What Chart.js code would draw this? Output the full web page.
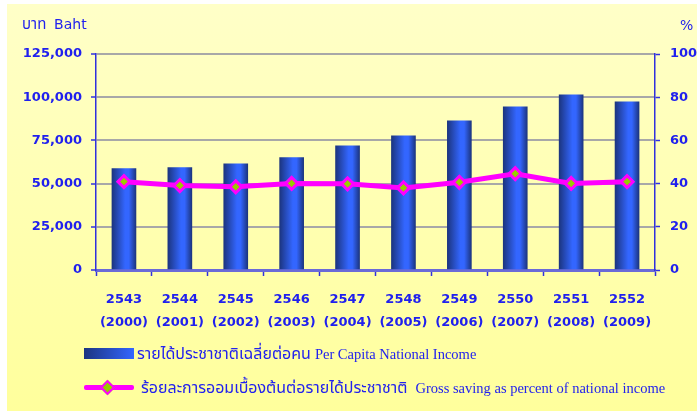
<!DOCTYPE html>
<html>
<head>
<meta charset="utf-8">
<script src="https://cdn.jsdelivr.net/npm/chart.js@4.4.0/dist/chart.umd.min.js"></script>
<style>
  body { margin: 0; background: #fff; }
  #wrap { position: relative; width: 698px; height: 414px; }
  #myChart { position: absolute; left: 0; top: 0; }
  .lbl { position: absolute; color: #2222ee; white-space: nowrap; }
  .th { font-family: Tahoma, "Noto Sans Thai", "Noto Sans", sans-serif; font-size: 16px; }
  .en { font-family: "Liberation Serif", "Times New Roman", serif; }
</style>
</head>
<body>
<div id="wrap">
  <canvas id="myChart" width="698" height="414"></canvas>
  <div class="lbl th" style="left:22px; top:13px; font-size:15px;">บาท&nbsp; <span style="font-family:'DejaVu Sans',sans-serif;font-size:14px;">Baht</span></div>
  <div class="lbl" style="left:680px; top:17px; font:14px 'DejaVu Sans', sans-serif;">%</div>

  <div style="position:absolute; left:84px; top:348px; width:50px; height:11px; background:linear-gradient(to right,#1c3580,#3366ff);"></div>
  <div class="lbl" style="left:137px; top:342px;"><span class="th">รายได้ประชาชาติเฉลี่ยต่อคน</span> <span class="en" style="font-size:14.5px;">Per Capita National Income</span></div>

  <div style="position:absolute; left:84px; top:385px; width:50px; height:5px; background:#ff00ff; border-radius:2px;"></div>
  <div style="position:absolute; left:102px; top:382px; width:7px; height:7px; background:#99cc00; border:2px solid #ff00ff; transform:rotate(45deg);"></div>
  <div class="lbl" style="left:141px; top:376px;"><span class="th">ร้อยละการออมเบื้องต้นต่อรายได้ประชาชาติ</span>&nbsp; <span class="en" style="font-size:14.5px;">Gross saving as percent of national income</span></div>
</div>
<script>
// years (Thai Buddhist era / AD)
var yearsBE = ['2543', '2544', '2545', '2546', '2547', '2548', '2549', '2550', '2551', '2552'];
var yearsAD = ['(2000)', '(2001)', '(2002)', '(2003)', '(2004)', '(2005)', '(2006)', '(2007)', '(2008)', '(2009)'];

// per capita national income, baht
var perCapitaIncome = [58700, 59200, 61500, 65000, 71900, 77700, 86300, 94400, 101300, 97300];

// gross saving as percent of national income
var grossSavingPct = [40.9, 39.1, 38.5, 40.1, 39.9, 38.0, 40.6, 44.6, 40.1, 40.9];

var incomeTicks = [0, 25000, 50000, 75000, 100000, 125000];
var pctTicks = [0, 20, 40, 60, 80, 100];

var blue = '#2020ee';
var barW = 24;

// yellow background behind everything
var bgPlugin = {
    id: 'bg',
    beforeDraw: function(chart) {
        var ctx = chart.ctx;
        var g = ctx.createLinearGradient(0, 4, 0, 411);
        g.addColorStop(0, '#ffffc8');
        g.addColorStop(1, '#ffff9c');
        ctx.save();
        ctx.fillStyle = g;
        ctx.fillRect(7, 4, 690, 407);
        ctx.restore();
    }
};

// cylinder-like shading, one gradient per bar
function barFill(c)
{
    var xs = c.chart.scales.x;
    if (!xs || c.dataIndex === undefined) return '#3366ff';
    var cx = xs.getPixelForValue(c.dataIndex);
    if (!isFinite(cx)) return '#3366ff';
    var x0 = cx - barW / 2;
    var g = c.chart.ctx.createLinearGradient(x0, 0, x0 + barW, 0);
    g.addColorStop(0, '#1c3580');
    g.addColorStop(0.55, '#3366ff');
    g.addColorStop(0.7, '#3366ff');
    g.addColorStop(1, '#1c3580');
    return g;
}

function drawChart()
{
    var ctx = document.getElementById('myChart').getContext('2d');
    var labels = yearsBE.map(function(y, i) { return [y, yearsAD[i]]; });

    var chart = new Chart(ctx, {
        type: 'bar',
        data: {
            labels: labels,
            datasets: [{
                type: 'bar',
                label: 'Per Capita National Income',
                data: perCapitaIncome,
                yAxisID: 'y',
                backgroundColor: barFill,
                barThickness: barW,
                order: 2
            }, {
                type: 'line',
                label: 'Gross saving as percent of national income',
                data: grossSavingPct,
                yAxisID: 'y1',
                borderColor: '#ff00ff',
                borderWidth: 5,
                fill: false,
                tension: 0,
                pointStyle: 'rectRot',
                pointRadius: 6,
                pointBorderWidth: 3,
                pointBackgroundColor: '#99cc00',
                pointBorderColor: '#ff00ff',
                order: 1
            }]
        },
        options: {
            responsive: false,
            animation: false,
            layout: { padding: { left: 0, right: 0, top: 54, bottom: 0 } },
            plugins: {
                legend: { display: false },
                tooltip: { enabled: false }
            },
            scales: {
                x: {
                    afterFit: function(s) { s.height = 144; },
                    grid: {
                        drawOnChartArea: false,
                        tickLength: 6,
                        tickColor: '#3030dd',
                        tickWidth: 1.5
                    },
                    border: { color: '#6a6ad8', width: 3 },
                    ticks: {
                        color: blue,
                        padding: 12,
                        maxRotation: 0,
                        font: { family: 'DejaVu Sans', size: 13, weight: 'bold', lineHeight: 1.75 }
                    }
                },
                y: {
                    position: 'left',
                    min: 0,
                    max: 125000,
                    afterFit: function(s) { s.width = 96; },
                    afterBuildTicks: function(s) { s.ticks = incomeTicks.map(function(v) { return { value: v }; }); },
                    grid: {
                        color: '#a8a8a8',
                        lineWidth: 2,
                        borderDash: [1, 1],
                        tickColor: '#3030dd',
                        tickBorderDash: [],
                        tickLength: 5,
                        tickWidth: 1.5
                    },
                    border: { color: '#3030dd', width: 1.5 },
                    ticks: {
                        color: blue,
                        padding: 9,
                        font: { family: 'DejaVu Sans', size: 13, weight: 'bold' },
                        callback: function(v) { return v.toLocaleString('en-US'); }
                    }
                },
                y1: {
                    position: 'right',
                    min: 0,
                    max: 100,
                    afterFit: function(s) { s.width = 43; },
                    afterBuildTicks: function(s) { s.ticks = pctTicks.map(function(v) { return { value: v }; }); },
                    grid: {
                        drawOnChartArea: false,
                        tickColor: '#3030dd',
                        tickLength: 5,
                        tickWidth: 1.5
                    },
                    border: { color: '#3030dd', width: 1.5 },
                    ticks: {
                        color: blue,
                        padding: 10,
                        font: { family: 'DejaVu Sans', size: 13, weight: 'bold' }
                    }
                }
            }
        },
        plugins: [bgPlugin]
    });
}
drawChart();
</script>
</body>
</html>
